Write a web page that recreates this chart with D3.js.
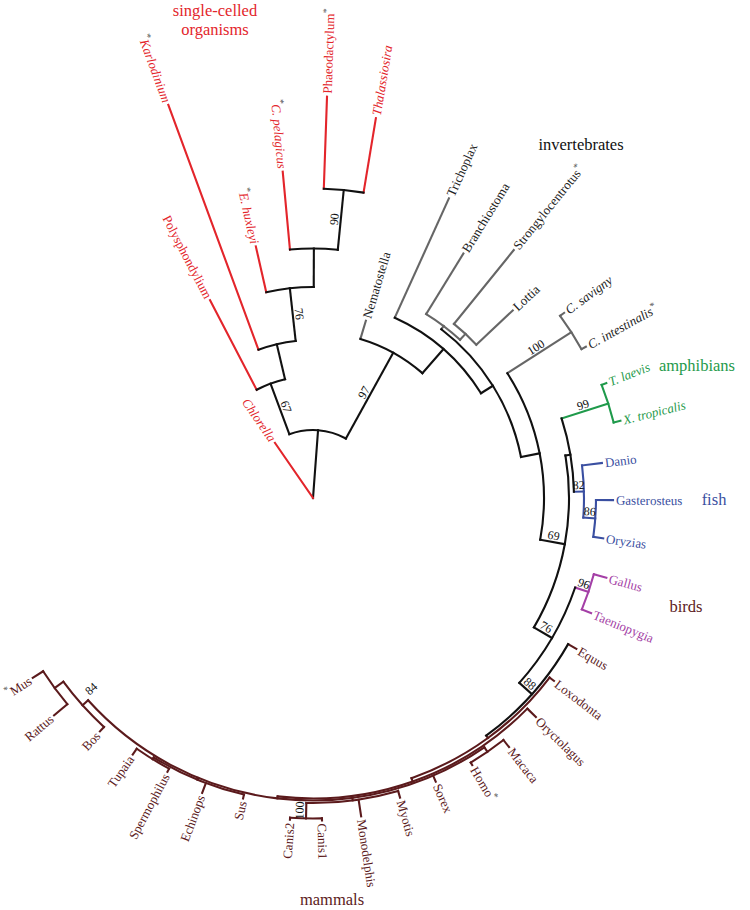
<!DOCTYPE html>
<html><head><meta charset="utf-8">
<script src="https://cdn.jsdelivr.net/npm/d3@7"></script>
<style>body{margin:0;background:#fff}svg{display:block}</style>
</head><body>
<svg id="chart" width="750" height="910"></svg>
<script>
// rows: [node, parent, distance from root, tip angle (deg, leaves only), group, support]
const singleCelled = [
  ["A","root",68,null,"k",""],
  ["Chlorella","root",67,-34.6,"single",""],
  ["B","A",122,null,"k","67"],
  ["Polysphondylium","B",223,-27.5,"single",""],
  ["C","B",158,null,"k",""],
  ["Karlodinium","C",419,-20.2,"single",""],
  ["D","C",211,null,"k","76"],
  ["E. huxleyi","D",258,-12.8,"single",""],
  ["E","D",249.5,null,"k",""],
  ["C. pelagicus","E",327.7,-5.3,"single",""],
  ["F","E",309.5,null,"k","90"],
  ["Phaeodactylum","F",401.6,2.0,"single",""],
  ["Thalassiosira","F",385,9.4,"single",""]
];
const invertebrates = [
  ["G","A",166,null,"k","97"],
  ["Nematostella","G",185,16.6,"inv",""],
  ["H","G",198,null,"k",""],
  ["Trichoplax","H",329,24.4,"inv",""],
  ["I","H",212,null,"k",""],
  ["J","I",216,null,"inv",""],
  ["Branchiostoma","J",287,31.6,"inv",""],
  ["K","J",224,null,"inv",""],
  ["Strongylocentrotus","K",319,39.0,"inv",""],
  ["Lottia","K",274,46.8,"inv",""],
  ["M","I",231,null,"k",""],
  ["L","M",307,null,"inv","100"],
  ["C. savigny","L",312,53.6,"inv",""],
  ["C. intestinalis","L",312,61.0,"inv",""]
];
const vertebrates = [
  ["N","M",256,null,"k","69"],
  ["P","N",261,null,"k",""],
  ["T","P",310,null,"amph","99"],
  ["T. laevis","T",315,68.6,"amph",""],
  ["X. tropicalis","T",317,75.9,"amph",""],
  ["O","P",271,null,"fish","82"],
  ["Danio","O",291,83.1,"fish",""],
  ["U","O",283,null,"fish","86"],
  ["Gasterosteus","U",300,90.4,"fish",""],
  ["Oryzias","U",293,97.9,"fish",""],
  ["Q","N",277,null,"k","76"],
  ["S","Q",291,null,"bird","96"],
  ["Gallus","S",304,105.2,"bird",""],
  ["Taeniopygia","S",301,112.5,"bird",""],
  ["R","Q",294,null,"k","88"]
];
const mammals = [
  ["Equus","R",303.5,119.8,"mammal",""],
  ["R2","R",297,null,"mammal",""],
  ["Loxodonta","R2",302.5,127.2,"mammal",""],
  ["R3","R2",300.5,null,"mammal",""],
  ["Oryctolagus","R3",312.5,134.5,"mammal",""],
  ["R4","R3",302.5,null,"mammal",""],
  ["V","R4",308,null,"mammal",""],
  ["Macaca","V",317,141.8,"mammal",""],
  ["Homo","V",311,149.2,"mammal",""],
  ["Sorex","R4",309,156.6,"mammal",""],
  ["Z1","R4",305,null,"mammal",""],
  ["Myotis","Z1",312,163.8,"mammal",""],
  ["Monodelphis","Z1",322,171.4,"mammal",""],
  ["W","Z1",320.5,null,"mammal","100"],
  ["Canis1","W",322.5,178.4,"mammal",""],
  ["Canis2","W",322.5,184.1,"mammal",""],
  ["Z3","R4",304.5,null,"mammal",""],
  ["Sus","Z3",308.5,193.1,"mammal",""],
  ["Echinops","Z3",315,200.6,"mammal",""],
  ["Z2","Z3",306.5,null,"mammal",""],
  ["Spermophilus","Z2",310,208,"mammal",""],
  ["Tupaia","Z2",313.5,215.1,"mammal",""],
  ["Y","R4",310,null,"mammal","84"],
  ["Bos","Y",316,222.4,"mammal",""],
  ["X","Y",320.7,null,"mammal",""],
  ["Mus","X",333,237.3,"mammal",""],
  ["Rattus","X",338,230,"mammal",""]
];
const starBefore = ["Karlodinium","C. pelagicus","E. huxleyi","Mus"];
const starAfter = ["Phaeodactylum","Strongylocentrotus","C. intestinalis","Homo"];
const italicTaxa = ["Karlodinium","C. pelagicus","E. huxleyi","Thalassiosira","Chlorella",
  "C. savigny","C. intestinalis","T. laevis","X. tropicalis"];
const groupTitles = [
  {g:"single", lines:["single-celled","organisms"]},
  {g:"invT", lines:["invertebrates"]},
  {g:"amph", lines:["amphibians"]},
  {g:"fish", lines:["fish"]},
  {g:"birdT", lines:["birds"]},
  {g:"mammal", lines:["mammals"]}
];

// ---------- styling / layout ----------
const lineColor = {k:"#111", single:"#e3252b", inv:"#666", amph:"#1f9a4b", fish:"#3a4fa1", bird:"#a43fa6", mammal:"#5b1a1c"};
const textColor = {single:"#e3252b", inv:"#222", amph:"#1f9a4b", fish:"#3a4fa1", bird:"#a43fa6", mammal:"#5b1a1c"};
const titleColor = {single:"#e3252b", invT:"#111", amph:"#1f9a4b", fish:"#3a4fa1", birdT:"#5b1a1c", mammal:"#5b1a1c"};
const titlePos = {single:[215,16], invT:[581,150], amph:[697,371], fish:[714,505], birdT:[686,612], mammal:[332,905]};
const cx = 313, cy = 498;
const FONT = "'Liberation Serif','Times New Roman',serif";

const rows = [["root","",0,null,"k",""]].concat(singleCelled, invertebrates, vertebrates, mammals);
const root = d3.stratify().id(d => d[0]).parentId(d => d[1] || null)(rows);

const rScale = d3.scaleLinear().domain([0, 420]).range([0, 420]);
const aScale = d3.scaleLinear().domain([-180, 180]).range([-Math.PI, Math.PI]);

root.eachAfter(n => {
  if (n.children) {
    const as = n.children.map(c => c.ang);
    n.a0 = d3.min(as); n.a1 = d3.max(as);
    n.ang = (n.a0 + n.a1) / 2;
  } else n.ang = n.data[3];
  n.rad = rScale(n.data[2]);
});
function pt(r, deg) {
  const t = aScale(deg);
  return [cx + r * Math.sin(t), cy - r * Math.cos(t)];
}
const svg = d3.select("#chart");
const gLines = svg.append("g").attr("fill","none").attr("stroke-width",2.1).attr("stroke-linecap","square");

// radial branches
root.descendants().filter(n => n.parent).forEach(n => {
  const p0 = pt(n.parent.rad, n.ang), p1 = pt(n.rad, n.ang);
  gLines.append("line").attr("x1",p0[0]).attr("y1",p0[1]).attr("x2",p1[0]).attr("y2",p1[1])
    .attr("stroke", lineColor[n.data[4]]);
});
// arcs
root.descendants().filter(n => n.children && n.rad > 0).forEach(n => {
  const p = d3.path();
  p.arc(cx, cy, n.rad, aScale(n.a0 - 90), aScale(n.a1 - 90), false);
  gLines.append("path").attr("d", p.toString()).attr("stroke", lineColor[n.data[4]]);
});

// leaf labels
const gText = svg.append("g").attr("font-family", FONT).attr("font-size", 13);
root.leaves().forEach(n => {
  const name = n.data[0];
  const right = n.ang > 0 && n.ang < 180;
  const p = pt(n.rad + 3, n.ang);
  const rot = right ? n.ang - 90 : n.ang + 90;
  const t = gText.append("text")
    .attr("transform", `translate(${p[0]},${p[1]}) rotate(${rot})`)
    .attr("text-anchor", right ? "start" : "end")
    .attr("dy", "0.35em")
    .attr("fill", textColor[n.data[4]])
    .attr("font-style", italicTaxa.includes(name) ? "italic" : "normal");
  if (starBefore.includes(name)) {
    t.append("tspan").text("*").attr("fill","#555").attr("font-size",10).attr("dy","-0.1em");
    t.append("tspan").text(name).attr("dy","0.45em");
  } else if (starAfter.includes(name)) {
    t.append("tspan").text(name);
    t.append("tspan").text("*").attr("fill","#555").attr("font-size",10).attr("dy","-0.5em");
  } else t.text(name);
});

// support values
const gSup = svg.append("g").attr("font-family", FONT).attr("font-size", 12).attr("fill", "#111");
root.descendants().filter(n => n.data[5]).forEach(n => {
  const len = n.rad - n.parent.rad;
  const r = len < 8 ? n.parent.rad - 10 : (n.rad + n.parent.rad) / 2;
  const right = n.ang > 0 && n.ang < 180;
  const p = pt(r, n.ang);
  const rot = right ? n.ang - 90 : n.ang + 90;
  gSup.append("text")
    .attr("transform", `translate(${p[0]},${p[1]}) rotate(${rot})`)
    .attr("text-anchor","middle").attr("dy", -2.5).text(n.data[5]);
});

// group titles
const gT = svg.append("g").attr("font-family", FONT).attr("font-size", 16.5).attr("text-anchor","middle");
groupTitles.forEach(d => {
  const [x, y] = titlePos[d.g];
  d.lines.forEach((ln, i) => {
    gT.append("text").attr("x", x).attr("y", y + i * 19).attr("fill", titleColor[d.g]).text(ln);
  });
});
</script>
</body></html>
